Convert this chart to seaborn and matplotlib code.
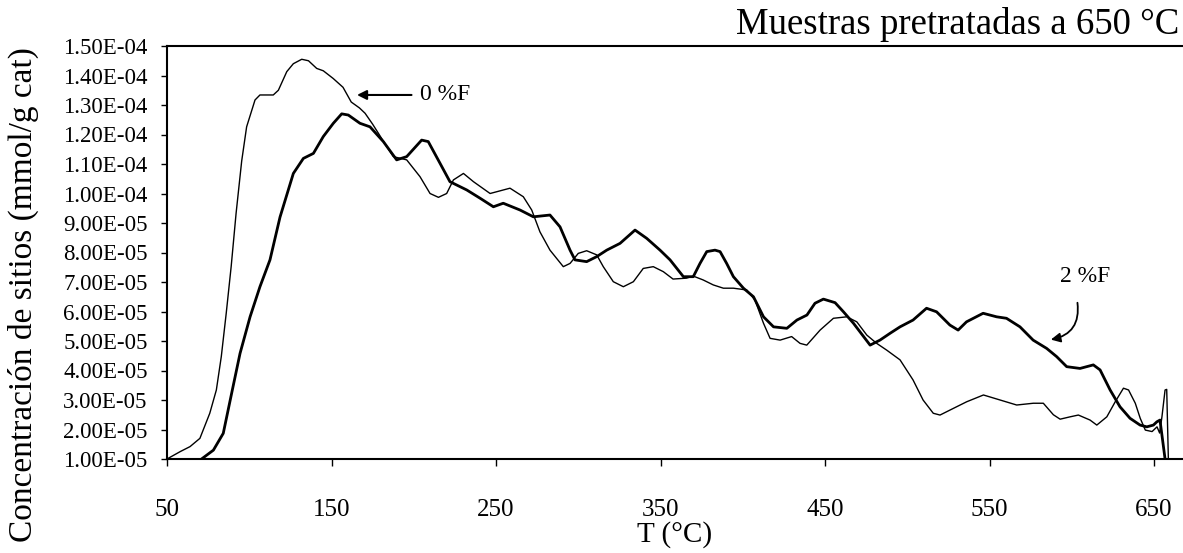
import numpy as np
import pandas as pd
import matplotlib
matplotlib.use("Agg")
import matplotlib.pyplot as plt
import seaborn as sns

# ---- data (temperature in °C, concentration in units of 1e-5 mmol/g cat) ----
t_0F = [50, 58, 64, 70, 76, 80, 83, 86, 89, 92, 95.4, 98.4, 103.5, 106.5, 114.6, 117.7,
        122.8, 126.8, 131.9, 136, 141, 145, 151, 157, 162, 167, 170.4, 175, 183.6, 187.6,
        195.7, 203.8, 209.9, 215, 220, 224.1, 230.2, 236.3, 246.4, 258.5, 266.6, 271.7,
        276.7, 282.8, 290.9, 295, 300, 305.1, 311.2, 315.2, 321.3, 327.4, 333.5, 339.5,
        345.6, 351.7, 357.6, 365.8, 369.9, 375.9, 382.1, 388.2, 394.3, 402.4, 407.4, 412.6,
        416.6, 422.7, 429.7, 434.8, 438.9, 447, 455.1, 463.2, 469.3, 475.4, 481.4, 487.5,
        495.6, 503.5, 509.6, 515.8, 519.9, 526, 536.1, 546.3, 556.4, 566.5, 576.6, 582.7,
        588.8, 592.9, 599, 604, 611.1, 615.2, 621.3, 626.4, 631.4, 634.5, 638.6, 641.6,
        644.7, 648.8, 651.8, 653.4, 654.8, 656.7, 657.7, 658.7]
c_0F = [1.0, 1.25, 1.42, 1.7, 2.55, 3.34, 4.47, 5.94, 7.52, 9.33, 11.1, 12.26, 13.17, 13.34,
        13.34, 13.5, 14.13, 14.4, 14.55, 14.5, 14.24, 14.16, 13.9, 13.6, 13.1, 12.9, 12.72,
        12.35, 11.59, 11.25, 11.14, 10.57, 10.0, 9.87, 10.0, 10.46, 10.68, 10.4, 10.0, 10.18,
        9.89, 9.44, 8.7, 8.08, 7.52, 7.63, 7.97, 8.06, 7.92, 7.52, 7.01, 6.84, 7.01, 7.46,
        7.52, 7.35, 7.1, 7.13, 7.2, 7.07, 6.9, 6.79, 6.79, 6.73, 6.39, 5.6, 5.09, 5.03, 5.15,
        4.92, 4.86, 5.37, 5.77, 5.82, 5.65, 5.2, 4.92, 4.69, 4.36, 3.68, 3.0, 2.55, 2.49,
        2.66, 2.94, 3.17, 3.0, 2.83, 2.89, 2.89, 2.5, 2.35, 2.43, 2.49, 2.32, 2.15, 2.43,
        2.94, 3.4, 3.34, 2.89, 2.38, 1.98, 1.93, 2.09, 1.88, 2.43, 3.34, 3.36, 1.0]

t_2F = [71, 78.2, 84.2, 89.3, 94.4, 100.5, 106.5, 112.6, 118.7, 126.8, 132.9, 139, 145,
        151.1, 156.2, 160.2, 167.3, 173.4, 181.5, 189.6, 195.7, 204.8, 208.8, 216, 222,
        232.2, 240.3, 248.4, 254.4, 264.6, 272.7, 282.8, 288.9, 295, 298, 305.1, 311.2,
        317.3, 325.4, 334.5, 341.6, 349.7, 355.8, 363.9, 369.9, 374, 378.1, 383.1, 386.2,
        390.2, 394.3, 400.4, 406.5, 412.6, 418.7, 426.8, 432.9, 439, 443.9, 449, 456.1,
        461.2, 467.3, 477.4, 483.4, 489.5, 495.6, 503.5, 511.7, 517.8, 525.9, 530.9, 536,
        546.1, 554.3, 560.3, 568.5, 576.5, 584.7, 590.8, 596.9, 605, 613.1, 617.2, 623.3,
        629.3, 635.4, 641.5, 645.6, 649.6, 651.7, 653.6, 656.7]
c_2F = [1.0, 1.3, 1.87, 3.23, 4.58, 5.82, 6.84, 7.75, 9.2, 10.68, 11.19, 11.36, 11.93,
        12.38, 12.7, 12.66, 12.38, 12.26, 11.76, 11.14, 11.25, 11.81, 11.76, 11.02, 10.4,
        10.12, 9.84, 9.55, 9.67, 9.44, 9.21, 9.27, 8.87, 8.08, 7.75, 7.69, 7.86, 8.08, 8.31,
        8.76, 8.48, 8.08, 7.75, 7.18, 7.18, 7.63, 8.03, 8.08, 8.03, 7.63, 7.18, 6.79, 6.5,
        5.82, 5.48, 5.43, 5.71, 5.88, 6.28, 6.42, 6.3, 5.99, 5.6, 4.86, 5.03, 5.26, 5.48,
        5.71, 6.11, 5.99, 5.54, 5.37, 5.65, 5.94, 5.82, 5.77, 5.48, 5.03, 4.75, 4.47, 4.13,
        4.07, 4.19, 4.02, 3.34, 2.77, 2.38, 2.15, 2.09, 2.15, 2.26, 2.32, 1.0]

x_ticks = [50, 150, 250, 350, 450, 550, 650]
y_ticks = [1e-5 * k for k in range(1, 16)]

title = "Muestras pretratadas a 650 °C"
xlabel = "T (°C)"
ylabel = "Concentración de sitios (mmol/g cat)"

df0 = pd.DataFrame({"T": t_0F, "C": np.array(c_0F) * 1e-5})
df2 = pd.DataFrame({"T": t_2F, "C": np.array(c_2F) * 1e-5})

sns.set_theme(style="white")
plt.rcParams["font.family"] = ["Liberation Serif", "DejaVu Serif"]

fig = plt.figure(figsize=(11.83, 5.53), dpi=100)
ax = fig.add_axes([167 / 1183, 1 - 459 / 553, 1 - 167 / 1183, (459 - 46) / 553])

sns.lineplot(data=df0, x="T", y="C", ax=ax, color="black", linewidth=1.0,
             sort=False, estimator=None)
sns.lineplot(data=df2, x="T", y="C", ax=ax, color="black", linewidth=2.0,
             sort=False, estimator=None)

ax.set_xlim(50, 667.6)
ax.set_ylim(1e-5, 1.5e-4)
ax.set_xticks(x_ticks)
ax.set_xticklabels([str(v) for v in x_ticks], fontsize=18)
ax.set_yticks(y_ticks)
ax.set_yticklabels([f"{v:.2E}" for v in y_ticks], fontsize=16.5)
ax.tick_params(axis="x", direction="out", length=5, width=1, pad=24, colors="black")
ax.tick_params(axis="y", direction="out", length=4, width=1, pad=10, colors="black")
ax.tick_params(left=True, bottom=True)

for side in ["left", "bottom", "top"]:
    ax.spines[side].set_visible(True)
    ax.spines[side].set_color("black")
    ax.spines[side].set_linewidth(1.5)
ax.spines["right"].set_visible(False)

ax.set_xlabel(xlabel, fontsize=21, labelpad=0, color="black")
ax.set_ylabel(ylabel, fontsize=24, color="black")
ax.yaxis.set_label_coords(-0.126, 0.397)

fig.text(0.997, 1 - 24 / 553, title, ha="right", va="center", fontsize=26.5, color="black")

ax.annotate("0 %F", xy=(165.5, 13.34e-5), xytext=(204, 13.34e-5),
            fontsize=17, va="center", ha="left", color="black",
            arrowprops=dict(arrowstyle="-|>", color="black", lw=1.5,
                            shrinkA=4, shrinkB=0, mutation_scale=14))
ax.text(608, 7.2e-5, "2 %F", fontsize=17, ha="center", va="center", color="black")
ax.annotate("", xy=(585.6, 5.03e-5), xytext=(603.2, 6.39e-5),
            arrowprops=dict(arrowstyle="-|>", color="black", lw=1.3,
                            connectionstyle="arc3,rad=-0.5", mutation_scale=14))

fig.savefig("out.png", dpi=100)
